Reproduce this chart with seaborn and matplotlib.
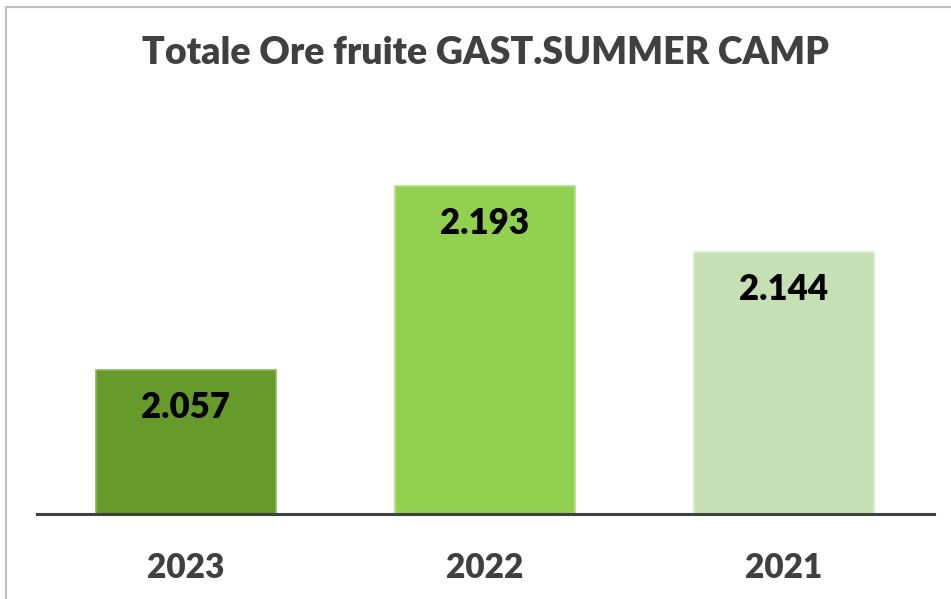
import matplotlib
matplotlib.use("Agg")
import matplotlib.pyplot as plt
import seaborn as sns
from matplotlib.lines import Line2D

# Chart data
years = ["2023", "2022", "2021"]
hours = [2057, 2193, 2144]
bar_colors = ["#669A2B", "#92D050", "#C5E0B5"]
edge_colors = ["#8DB85E", "#B3E28A", "#DCEBD2"]

sns.set_theme(style="white")
plt.rcParams['font.family'] = ['Lato', 'DejaVu Sans']

fig = plt.figure(figsize=(9.51, 5.99), dpi=100)
W, H = 951, 599
ax = fig.add_axes([36.5 / W, (H - 514) / H, 897 / W, (514 - 109) / H])

sns.barplot(x=years, y=hours, hue=years, palette=bar_colors,
            legend=False, width=0.6, ax=ax, saturation=1)
for patch, ec in zip(ax.patches, edge_colors):
    patch.set_edgecolor(ec)
    patch.set_linewidth(1.2)

ax.set_ylim(1950, 2250)
ax.set_xlim(-0.5, 2.5)

# value labels inside bars, italian thousands separator
for i, v in enumerate(hours):
    label = f"{v:,}".replace(",", ".")
    ax.annotate(label, (i, v), xytext=(0, -27), textcoords="offset points",
                ha="center", va="center", fontsize=25, fontweight="heavy",
                color="black")

for side in ["left", "right", "top"]:
    ax.spines[side].set_visible(False)
ax.spines["bottom"].set_color("#404040")
ax.spines["bottom"].set_linewidth(2.2)
ax.set_yticks([])
ax.tick_params(axis="x", length=0, pad=27, labelsize=24, colors="#404040")
for t in ax.get_xticklabels():
    t.set_fontweight("heavy")
ax.set_xlabel("")
ax.set_ylabel("")

fig.text(485.5 / W, 1 - 53 / H, "Totale Ore fruite GAST.SUMMER CAMP",
         ha="center", va="center", fontsize=27, fontweight="heavy", color="#404040")

# light frame (top and left edges only are visible in the crop)
fig.add_artist(Line2D([5.5 / W, 1], [1 - 6.5 / H, 1 - 6.5 / H],
                      transform=fig.transFigure, color="#BFBFBF", linewidth=1.5))
fig.add_artist(Line2D([5.5 / W, 5.5 / W], [0, 1 - 6.5 / H],
                      transform=fig.transFigure, color="#BFBFBF", linewidth=1.5))

fig.savefig("out.png", dpi=100)
